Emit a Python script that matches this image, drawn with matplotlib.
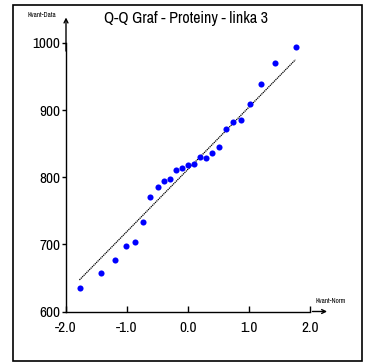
import numpy as np
import matplotlib
matplotlib.use("Agg")
import matplotlib.pyplot as plt
from matplotlib.patches import Rectangle

plt.rcParams["font.family"] = ["Archivo Narrow", "Liberation Sans", "DejaVu Sans"]

# theoretical normal quantiles (x) and sorted data (y)
kvant_norm = [-1.77, -1.43, -1.20, -1.02, -0.87, -0.74, -0.62, -0.50, -0.40,
              -0.29, -0.19, -0.10, 0.00, 0.10, 0.19, 0.29, 0.40, 0.50,
              0.62, 0.74, 0.87, 1.02, 1.20, 1.43, 1.77]
kvant_data = [635, 658, 677, 698, 704, 733, 770, 786, 794, 797, 811, 814,
              818, 819, 830, 829, 836, 845, 872, 883, 885, 909, 939, 970, 994]

# reference line end points
line_x = [-1.78, 1.76]
line_y = [647, 975]

x_ticks = [-2.0, -1.0, 0.0, 1.0, 2.0]
y_ticks = [600, 700, 800, 900, 1000]

fig = plt.figure(figsize=(3.69, 3.63), dpi=100)
fig.patches.append(Rectangle((13 / 369, 2 / 363), 349 / 369, 356 / 363,
                             transform=fig.transFigure, fill=False,
                             edgecolor="black", lw=1.2))

ax = fig.add_axes([66 / 369, 51.5 / 363, 244 / 369, 268.5 / 363])
ax.set_xlim(-2.0, 2.0)
ax.set_ylim(600, 1000)

ax.plot(line_x, line_y, color="black", lw=0.9, ls=(0, (1, 0.6)))
ax.plot(kvant_norm, kvant_data, "o", color="#0000ff", ms=4.4,
        markeredgewidth=0, clip_on=False)

for s in ["top", "right"]:
    ax.spines[s].set_visible(False)
ax.spines["left"].set_linewidth(1.0)
ax.spines["bottom"].set_linewidth(1.0)

ax.set_xticks(x_ticks)
ax.set_xticklabels([f"{v:.1f}" for v in x_ticks])
ax.set_yticks(y_ticks)
ax.tick_params(axis="x", direction="in", length=4, width=1, labelsize=11, pad=7)
ax.tick_params(axis="y", direction="out", length=3, width=1, labelsize=11, pad=1)

# axis arrows
ax.annotate("", xy=(0, 1.095), xytext=(0, 0.97), xycoords="axes fraction",
            arrowprops=dict(arrowstyle="->", lw=1.0, color="black",
                            mutation_scale=7, shrinkA=0, shrinkB=0))
ax.annotate("", xy=(1.07, 0), xytext=(1.01, 0), xycoords="axes fraction",
            arrowprops=dict(arrowstyle="->", lw=1.0, color="black",
                            mutation_scale=7, shrinkA=0, shrinkB=0))

fig.text(42 / 369, 1 - 15 / 363, "Kvant-Data", fontsize=5, fontweight="bold",
         ha="center", va="center")
fig.text(331 / 369, 1 - 301 / 363, "Kvant-Norm", fontsize=5, fontweight="bold",
         ha="center", va="center")
fig.text(186 / 369, 1 - 18 / 363, "Q-Q Graf - Proteiny - linka 3",
         fontsize=11.5, ha="center", va="center")

fig.savefig("out.png", dpi=100)
